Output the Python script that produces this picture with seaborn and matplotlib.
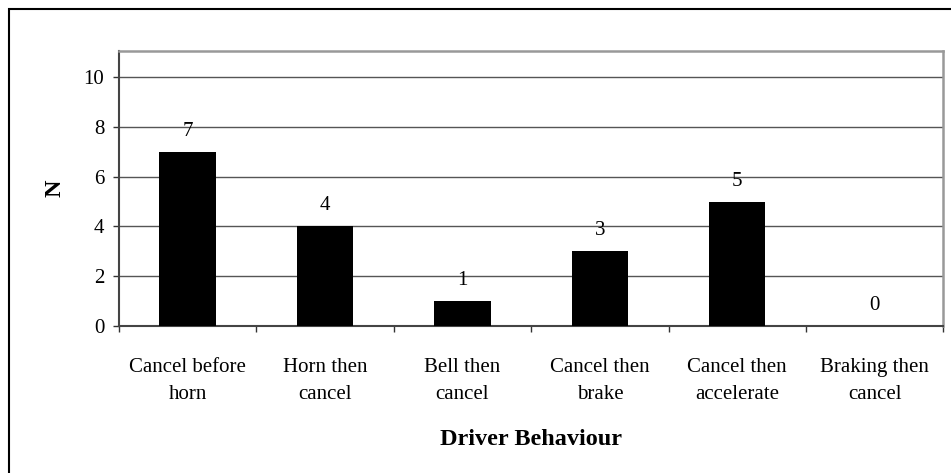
import numpy as np
import pandas as pd
import matplotlib
matplotlib.use("Agg")
import matplotlib.pyplot as plt
import seaborn as sns

# data
behaviours = ["Cancel before\nhorn", "Horn then\ncancel", "Bell then\ncancel",
              "Cancel then\nbrake", "Cancel then\naccelerate", "Braking then\ncancel"]
counts = [7, 4, 1, 3, 5, 0]
y_ticks = [0, 2, 4, 6, 8, 10]

sns.set_style("white")
plt.rcParams["font.family"] = ["Liberation Serif", "DejaVu Serif"]
plt.rcParams["text.color"] = "black"
plt.rcParams["axes.labelcolor"] = "black"
plt.rcParams["xtick.color"] = "black"
plt.rcParams["ytick.color"] = "black"

df = pd.DataFrame({"behaviour": behaviours, "N": counts})

fig = plt.figure(figsize=(9.51, 4.73), dpi=100)
ax = fig.add_axes([0.125, 0.311, 0.867, 0.581])

sns.barplot(data=df, x="behaviour", y="N", color="black", width=0.41,
            saturation=1, linewidth=0, ax=ax, zorder=3)

ax.set_ylim(0, 11.05)
ax.set_xlim(-0.5, len(behaviours) - 0.5)
ax.set_yticks(y_ticks)
ax.yaxis.grid(True, color="#555555", linewidth=1, zorder=0)
ax.set_axisbelow(True)

# value labels
for i, v in enumerate(counts):
    ax.annotate(str(v), (i, v), xytext=(0, 11.5), textcoords="offset points",
                ha="center", va="baseline", fontsize=15)

# tick marks between categories
ax.set_xticks(np.arange(-0.5, len(behaviours)), minor=True)
ax.tick_params(axis="x", which="major", bottom=False, pad=19.5, labelsize=15)
ax.tick_params(axis="x", which="minor", bottom=True, length=4.5, width=1,
               color="#333333", direction="out")
ax.tick_params(axis="y", left=True, length=4.5, width=1, color="#333333",
               direction="out", labelsize=15, pad=6)
plt.setp(ax.get_xticklabels(), linespacing=1.6)

for side in ["top", "right"]:
    ax.spines[side].set_color("#999999")
    ax.spines[side].set_linewidth(1.8)
for side in ["left", "bottom"]:
    ax.spines[side].set_color("#444444")
    ax.spines[side].set_linewidth(1.5)

ax.set_xlabel("Driver Behaviour", fontsize=17.5, fontweight="bold", labelpad=18)
ax.set_ylabel("N", fontsize=17.5, fontweight="bold", labelpad=13)

# outer border (only left and top edges fall inside the image)
fig.patches.append(plt.Rectangle((0.0095, -0.2), 1.2, 1.18, transform=fig.transFigure,
                                 fill=False, edgecolor="black", linewidth=1.5))

fig.savefig("out.png", dpi=100)
